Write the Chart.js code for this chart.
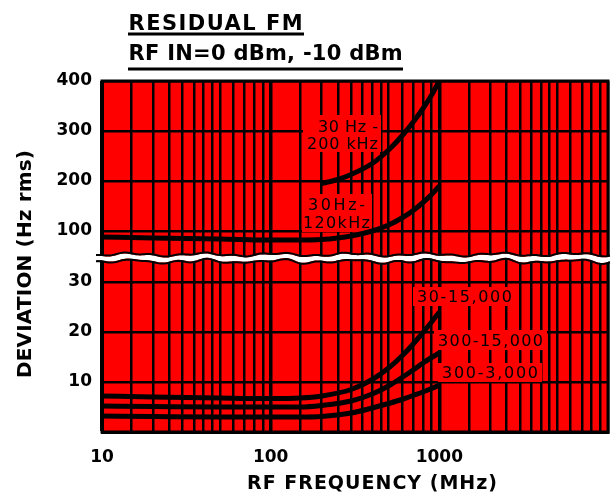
<!DOCTYPE html>
<html><head><meta charset="utf-8">
<script src="https://cdn.jsdelivr.net/npm/chart.js@4/dist/chart.umd.min.js"></script>
<style>html,body{margin:0;padding:0;background:#fff;overflow:hidden}#wrap{width:611px;height:497px;position:relative}canvas{display:block}</style>
</head><body><div id="wrap"><canvas id="c" width="611" height="497"></canvas></div>
<script>
// ---- data ----
const xGridValues = [10,15,20,25,30,35,40,45,50,60,70,80,90,
  100,150,200,250,300,350,400,450,500,600,700,800,900,
  1000,1500,2000,2500,3000,3500,4000,4500,5000,6000,7000,8000,9000,10000];
const xTickValues = [10, 100, 1000];
const xTickLabels = ['10', '100', '1000'];

const yTopGrid = [100,150,200,250,300,350,400];
const yTopLabelValues = [100,200,300,400];
const yBotGrid = [0,5,10,15,20,25,30];
const yBotLabelValues = [10,20,30];

// upper panel (Hz rms)
const f200k = [200, 250, 300, 400, 500, 600, 700, 800, 900, 1000];
const v200k = [195, 203, 213, 235, 262, 290, 318, 345, 372, 400];
const f120k = [10, 20, 50, 100, 150, 200, 250, 300, 400, 500, 600, 700, 800, 900, 1000];
const v120k = [88, 86, 84, 82, 82, 83, 86, 90, 100, 112, 126, 141, 157, 173, 190];

// lower panel (Hz rms)
const fLow = [10, 20, 50, 100, 150, 200, 300, 400, 500, 600, 700, 800, 900, 1000];
const v30_15000  = [7.2, 7.0, 6.8, 6.7, 6.8, 7.2, 8.5, 10.5, 12.8, 15.2, 17.6, 19.9, 22.0, 24.0];
const v300_15000 = [5.2, 5.1, 5.0, 5.0, 5.0, 5.3, 6.2, 7.6, 9.2, 10.9, 12.4, 13.8, 14.9, 15.8];
const v300_3000  = [3.2, 3.1, 3.0, 3.0, 3.0, 3.1, 3.8, 4.8, 5.7, 6.5, 7.3, 8.0, 8.7, 9.4];

const pts = (xs, ys) => xs.map((x, i) => ({x, y: ys[i]}));

const RED = '#ff0000';
const FONT = 'DejaVu Sans';

function drawFit(ctx, text, x, base, targetW, font, align) {
  ctx.save();
  ctx.font = font;
  ctx.letterSpacing = '0px';
  const w0 = ctx.measureText(text).width;
  const n = [...text].length;
  const ls = n > 1 ? (targetW - w0) / (n - 1) : 0;
  ctx.letterSpacing = ls + 'px';
  const left = align === 'right' ? x - targetW : align === 'center' ? x - targetW / 2 : x;
  ctx.textAlign = 'left';
  ctx.textBaseline = 'alphabetic';
  ctx.fillStyle = '#000';
  ctx.fillText(text, left, base);
  ctx.restore();
}

function box(ctx, x0, y0, x1, y1) {
  ctx.fillStyle = RED;
  ctx.fillRect(x0, y0, x1 - x0, y1 - y0);
}

const curveLabels = [
  {t: '30 Hz -', x: 378, b: 132, w: 60, a: 'right'},
  {t: '200 kHz', x: 378, b: 148.5, w: 71, a: 'right'},
  {t: '30Hz-', x: 336.5, b: 210, w: 57, a: 'center'},
  {t: '120kHz', x: 336.5, b: 228, w: 67, a: 'center'},
  {t: '30-15,000', x: 417, b: 302, w: 95, a: 'left'},
  {t: '300-15,000', x: 438, b: 346, w: 105, a: 'left'},
  {t: '300-3,000', x: 442, b: 378, w: 96, a: 'left'}
];

const deco = {
  id: 'deco',
  beforeDraw(chart) {
    const {ctx, chartArea: a} = chart;
    ctx.save();
    ctx.fillStyle = '#fff';
    ctx.fillRect(0, 0, chart.width, chart.height);
    ctx.fillStyle = RED;
    ctx.fillRect(a.left, a.top, a.right - a.left, a.bottom - a.top);
    ctx.restore();
  },
  beforeDatasetsDraw(chart) {
    const {ctx} = chart;
    ctx.save();
    box(ctx, 303, 115, 381, 152);
    box(ctx, 302, 194, 372, 232);
    box(ctx, 413, 287, 516, 306);
    box(ctx, 434, 330, 547, 350);
    box(ctx, 438, 363, 542, 382);
    const f = `16px "${FONT}"`;
    curveLabels.forEach(l => drawFit(ctx, l.t, l.x, l.b, l.w, f, l.a));
    ctx.restore();
  },
  afterDatasetsDraw(chart) {
    const {ctx, chartArea: a} = chart;
    ctx.save();
    ctx.strokeStyle = '#000';
    ctx.lineWidth = 3;
    ctx.strokeRect(a.left, a.top, a.right - a.left, a.bottom - a.top);
    // break wave
    const up = x => 255.5 + 1.3 * Math.sin(x * 0.085) + 0.8 * Math.sin(x * 0.23 + 1.3);
    const lo = x => up(x) + 5 + 0.8 * Math.sin(x * 0.17 + 0.4);
    ctx.beginPath();
    ctx.moveTo(96, up(96));
    for (let x = 96; x <= 611; x += 2) ctx.lineTo(x, up(x));
    for (let x = 611; x >= 96; x -= 2) ctx.lineTo(x, lo(x));
    ctx.closePath();
    ctx.fillStyle = '#fff';
    ctx.fill();
    ctx.lineWidth = 2;
    ctx.strokeStyle = '#000';
    ctx.beginPath();
    for (let x = 96; x <= 611; x += 2) { x === 96 ? ctx.moveTo(x, up(x) - 1) : ctx.lineTo(x, up(x) - 1); }
    ctx.stroke();
    ctx.beginPath();
    for (let x = 96; x <= 611; x += 2) { x === 96 ? ctx.moveTo(x, lo(x) + 1) : ctx.lineTo(x, lo(x) + 1); }
    ctx.stroke();
    ctx.restore();
  },
  afterDraw(chart) {
    const {ctx} = chart;
    ctx.save();
    drawFit(ctx, 'RESIDUAL FM', 128.6, 30, 174, `bold 21px "${FONT}"`, 'left');
    drawFit(ctx, 'RF IN=0 dBm, -10 dBm', 128.6, 60, 274, `bold 21px "${FONT}"`, 'left');
    ctx.fillStyle = '#000';
    ctx.fillRect(128, 32.5, 176, 3);
    ctx.fillRect(128, 67.5, 275, 3);
    drawFit(ctx, 'RF FREQUENCY (MHz)', 247, 489, 250, `bold 19px "${FONT}"`, 'left');
    ctx.translate(31, 378);
    ctx.rotate(-Math.PI / 2);
    drawFit(ctx, 'DEVIATION (Hz rms)', 0, 0, 228, `bold 20px "${FONT}"`, 'left');
    ctx.restore();
  }
};

const tickFont = {family: FONT, weight: 'bold', size: 17};

new Chart(document.getElementById('c'), {
  type: 'line',
  data: {
    datasets: [
      {label: '30 Hz-200 kHz', data: pts(f200k, v200k), yAxisID: 'yTop'},
      {label: '30 Hz-120 kHz', data: pts(f120k, v120k), yAxisID: 'yTop'},
      {label: '30-15,000', data: pts(fLow, v30_15000), yAxisID: 'yBot'},
      {label: '300-15,000', data: pts(fLow, v300_15000), yAxisID: 'yBot'},
      {label: '300-3,000', data: pts(fLow, v300_3000), yAxisID: 'yBot'}
    ]
  },
  options: {
    responsive: false,
    animation: false,
    devicePixelRatio: 1,
    layout: {padding: {top: 81, right: 3, left: 0, bottom: 0}},
    plugins: {legend: {display: false}, tooltip: {enabled: false}},
    elements: {
      point: {radius: 0},
      line: {borderColor: '#000', borderWidth: 5, cubicInterpolationMode: 'monotone', fill: false}
    },
    scales: {
      x: {
        type: 'logarithmic', min: 10, max: 10000,
        afterBuildTicks: s => { s.ticks = xGridValues.map(v => ({value: v})); },
        afterFit: s => { s.height = 65; s.paddingLeft = 0; s.paddingRight = 0; },
        ticks: {
          autoSkip: false, maxRotation: 0, minRotation: 0, padding: 15, color: '#000', font: tickFont,
          callback: v => { const i = xTickValues.indexOf(v); return i >= 0 ? xTickLabels[i] : ''; }
        },
        grid: {color: '#000', drawTicks: false,
          lineWidth: c => (c.tick && xTickValues.includes(c.tick.value)) ? 3.5 : 2.5},
        border: {color: '#000', width: 3}
      },
      yBot: {
        type: 'linear', position: 'left', stack: 'dev', stackWeight: 173, min: 0, max: 34.6,
        afterBuildTicks: s => { s.ticks = yBotGrid.map(v => ({value: v})); },
        afterFit: s => { s.width = 102; s.paddingTop = 0; s.paddingBottom = 0; },
        ticks: {padding: 10, color: '#000', font: tickFont,
          callback: v => yBotLabelValues.includes(v) ? String(v) : ''},
        grid: {color: '#000', lineWidth: 2.5, drawTicks: false},
        border: {color: '#000', width: 3}
      },
      yTop: {
        type: 'linear', position: 'left', stack: 'dev', stackWeight: 178, min: 44, max: 400,
        afterBuildTicks: s => { s.ticks = yTopGrid.map(v => ({value: v})); },
        afterFit: s => { s.width = 102; s.paddingTop = 0; s.paddingBottom = 0; },
        ticks: {padding: 10, color: '#000', font: tickFont,
          callback: v => yTopLabelValues.includes(v) ? String(v) : ''},
        grid: {color: '#000', lineWidth: 2.5, drawTicks: false},
        border: {color: '#000', width: 3}
      }
    }
  },
  plugins: [deco]
});
</script>
</body></html>
